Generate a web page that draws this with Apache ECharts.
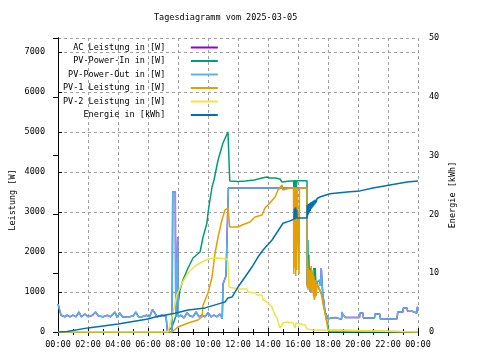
<!DOCTYPE html>
<html>
<head>
<meta charset="utf-8">
<script src="https://cdn.jsdelivr.net/npm/echarts@6/dist/echarts.min.js"></script>
<style>html,body{margin:0;padding:0;background:#fff}#c{width:480px;height:360px}</style>
</head>
<body>
<div id="c"></div>
<script>
// ---------- DATA ----------
const titleText = 'Tagesdiagramm vom 2025-03-05';
const seriesNames = ['AC Leistung in [W]', 'PV-Power-In in [W]', 'PV-Power-Out in [W]', 'PV-1 Leistung in [W]', 'PV-2 Leistung in [W]', 'Energie in [kWh]'];
const hourLabels = ['00:00','02:00','04:00','06:00','08:00','10:00','12:00','14:00','16:00','18:00','20:00','22:00','00:00'];
const leftAxisName = 'Leistung [W]';
const rightAxisName = 'Energie [kWh]';

// [hour, W]
const pvOut = [[0,700],[0.1,560],[0.2,420],[0.45,380],[0.6,420],[0.8,380],[1.0,420],[1.2,380],[1.4,500],[1.55,380],[1.8,450],[2.0,380],[2.3,420],[2.5,500],[2.7,400],[3.0,380],[3.3,420],[3.5,380],[3.8,500],[3.95,360],[4.1,480],[4.3,380],[4.6,370],[5.0,400],[5.2,500],[5.35,380],[5.6,380],[5.9,420],[6.1,380],[6.3,560],[6.45,480],[6.6,380],[6.9,420],[7.2,400],[7.3,0],[7.6,0],[7.65,3500],[7.82,3500],[7.85,380],[7.95,380],[7.98,2375],[8.02,380],[8.2,420],[8.4,350],[8.6,480],[8.8,400],[9.0,380],[9.2,500],[9.4,380],[9.6,420],[9.8,380],[10.0,480],[10.2,380],[10.4,420],[10.6,380],[10.8,450],[10.95,330],[11.0,1200],[11.2,1400],[11.33,1400],[11.36,3600],[16.6,3600],[16.62,1150],[16.65,1550],[16.7,1100],[16.75,1500],[16.8,1000],[16.85,1450],[16.9,1050],[16.95,1400],[17.0,1100],[17.05,1350],[17.1,850],[17.15,1300],[17.2,1150],[17.27,1250],[17.33,1300],[17.45,1300],[17.5,1150],[17.55,1600],[17.62,1600],[17.65,950],[17.72,750],[17.8,500],[17.93,400],[18.0,330],[18.5,360],[18.9,320],[18.93,500],[19.0,425],[19.2,360],[20.1,360],[20.13,475],[20.33,475],[20.36,350],[21.1,350],[21.13,450],[21.45,450],[21.5,320],[22.6,330],[22.65,500],[23.0,500],[23.02,600],[23.27,600],[23.3,520],[23.6,520],[23.62,475],[23.93,475],[23.95,625],[24,600]];

const acPower = [[0,700],[0.1,560],[0.2,420],[0.45,380],[0.6,420],[0.8,380],[1.0,420],[1.2,380],[1.4,500],[1.55,380],[1.8,450],[2.0,380],[2.3,420],[2.5,500],[2.7,400],[3.0,380],[3.3,420],[3.5,380],[3.8,500],[3.95,360],[4.1,480],[4.3,380],[4.6,370],[5.0,400],[5.2,500],[5.35,380],[5.6,380],[5.9,420],[6.1,380],[6.3,560],[6.45,480],[6.6,380],[6.9,420],[7.2,400],[7.3,0],[7.6,0],[7.65,3500],[7.82,3500],[7.85,380],[7.95,380],[7.98,2375],[8.02,380],[8.2,420],[8.4,350],[8.6,480],[8.8,400],[9.0,380],[9.2,500],[9.4,380],[9.6,420],[9.8,380],[10.0,480],[10.2,380],[10.4,420],[10.6,380],[10.8,450],[10.95,330],[11.0,1200],[11.2,1400],[11.33,1400],[11.36,3600],[12.0,3600],[12.02,3640],[12.1,3640],[12.12,3600],[12.3,3600],[12.32,3640],[12.4,3640],[12.42,3600],[16.6,3600],[16.62,1150],[16.65,1550],[16.7,1100],[16.75,1500],[16.8,1000],[16.85,1450],[16.9,1050],[16.95,1400],[17.0,1100],[17.05,1350],[17.1,850],[17.15,1300],[17.2,1150],[17.27,1250],[17.33,1300],[17.45,1300],[17.5,1150],[17.55,1600],[17.62,1600],[17.65,950],[17.72,750],[17.8,500],[17.93,400],[18.0,330],[18.5,360],[18.9,320],[18.93,500],[19.0,425],[19.2,360],[20.1,360],[20.13,475],[20.33,475],[20.36,350],[21.1,350],[21.13,450],[21.45,450],[21.5,320],[22.6,330],[22.65,500],[23.0,500],[23.02,600],[23.27,600],[23.3,520],[23.6,520],[23.62,475],[23.93,475],[23.95,625],[24,600]];

const pvIn = [[0,0],[7.27,0],[7.6,125],[7.93,475],[8.13,1050],[8.33,1300],[8.67,1600],[9.0,1850],[9.47,2000],[9.6,2050],[9.67,2375],[9.93,2725],[10.0,2975],[10.13,3300],[10.27,3625],[10.4,3800],[10.67,4300],[11.0,4725],[11.33,5000],[11.43,5000],[11.45,3775],[12.0,3760],[12.5,3775],[13.1,3800],[13.15,3850],[13.6,3850],[13.93,3875],[14.1,3850],[14.5,3850],[14.8,3825],[14.93,3750],[15.47,3775],[15.7,3775],[15.73,3600],[15.76,3800],[15.8,3620],[15.84,3800],[15.88,3600],[15.93,3780],[16.6,3780],[16.62,1200],[16.66,2300],[16.68,1700],[16.72,1925],[16.75,1550],[16.8,1300],[16.85,1600],[16.9,1200],[16.95,1500],[17.0,1150],[17.05,1600],[17.1,900],[17.15,1600],[17.2,1150],[17.27,1250],[17.33,1150],[17.5,1000],[17.6,950],[17.67,875],[17.8,500],[17.93,250],[18.0,175],[18.05,0],[24,0]];

const pv1 = [[0,0],[7.6,0],[8.0,125],[8.67,225],[9.33,300],[9.6,375],[9.67,675],[10.0,975],[10.27,1375],[10.47,1975],[10.67,2375],[10.93,2800],[11.13,3050],[11.33,3100],[11.4,3050],[11.45,2625],[12.0,2625],[12.27,2675],[12.8,2750],[13.13,2875],[13.6,2925],[13.8,3100],[14.0,3175],[14.47,3375],[14.67,3550],[14.93,3675],[15.0,3550],[15.47,3600],[15.7,3600],[15.72,1450],[15.75,3600],[15.78,1600],[15.81,3600],[15.85,1400],[15.88,3600],[15.91,1550],[15.94,3600],[16.05,3600],[16.07,1450],[16.1,3600],[16.6,3600],[16.62,1100],[16.64,1850],[16.67,1050],[16.7,1600],[16.73,1100],[16.76,1550],[16.79,1050],[16.82,1500],[16.85,1100],[16.88,1650],[16.91,1000],[16.94,1450],[16.97,1100],[17.0,1550],[17.03,900],[17.06,1400],[17.09,800],[17.12,1300],[17.15,1050],[17.18,1250],[17.22,900],[17.27,1200],[17.33,1125],[17.45,1100],[17.53,1000],[17.6,950],[17.67,700],[17.8,475],[17.93,225],[18.0,50],[18.13,0],[24,0]];

const pv2 = [[0,0],[7.33,0],[7.67,475],[7.93,925],[8.27,1225],[8.67,1475],[9.13,1650],[9.6,1750],[10.0,1825],[10.67,1850],[11.27,1825],[11.33,1750],[11.4,1125],[12.0,1075],[12.6,1075],[12.67,1000],[13.13,975],[13.27,925],[13.6,925],[13.67,800],[13.93,750],[14.0,700],[14.27,625],[14.33,550],[14.47,425],[14.6,350],[14.67,250],[14.8,100],[14.93,50],[15.0,225],[15.27,250],[15.67,225],[15.8,100],[15.87,225],[16.0,175],[16.47,175],[16.6,75],[17.0,50],[17.5,50],[17.6,0],[24,0]];

// [hour, kWh]
const energy = [[0,0],[0.6,0.1],[2.0,0.7],[4.0,1.35],[6.0,2.2],[6.47,2.55],[7.8,3.2],[8.67,3.75],[9.8,4.1],[10.93,4.95],[11.13,5.1],[11.33,5.8],[11.6,5.95],[12.0,7.65],[12.47,9.35],[12.93,11.05],[13.33,12.75],[13.67,13.95],[14.27,15.65],[15.0,18.5],[15.47,18.9],[15.73,19.2],[15.76,21.0],[15.8,19.2],[15.84,21.2],[15.88,19.3],[15.91,20.8],[15.93,19.4],[16.6,19.4],[16.61,21.6],[16.63,19.7],[16.66,21.7],[16.69,20.0],[16.72,21.8],[16.75,20.3],[16.78,21.9],[16.81,20.6],[16.84,22.0],[16.87,20.9],[16.9,22.1],[16.93,21.1],[16.96,22.2],[16.99,21.3],[17.02,22.3],[17.05,21.5],[17.08,22.4],[17.12,21.7],[17.16,22.5],[17.2,22.0],[17.27,22.7],[17.5,23.0],[18.13,23.5],[19.27,23.8],[20.13,24.0],[21.0,24.5],[22.13,25.0],[23.27,25.5],[24,25.7]];

const seriesColors = ['#9400d3', '#009e73', '#56b4e9', '#e69f00', '#f0e442', '#0072b2'];

// ---------- CHART ----------
const FONT = 'DejaVu Sans Mono';
const FS = 8.5;
const chart = echarts.init(document.getElementById('c'), null, {renderer: 'canvas'});
const gridLine = {show: true, lineStyle: {color: '#a0a0a0', type: [3, 3], width: 1}};
const blackLine = {show: true, lineStyle: {color: '#000', width: 1}};
const txt = {fontFamily: FONT, fontSize: FS, color: '#000'};

function mk(i, data, yIdx) {
  return {
    name: seriesNames[i], type: 'line', data: data, yAxisIndex: yIdx, xAxisIndex: 0,
    symbol: 'none', showSymbol: false, silent: true, animation: false,
    lineStyle: {width: 1.5, color: seriesColors[i]}, itemStyle: {color: seriesColors[i]},
    emphasis: {disabled: true}
  };
}

chart.setOption({
  backgroundColor: '#fff',
  animation: false,
  title: {text: titleText, left: 154, top: 13, padding: 0,
    textStyle: {fontFamily: FONT, fontSize: FS, fontWeight: 'normal', color: '#000'}},
  grid: {left: 58, right: 62, top: 38, bottom: 28, containLabel: false},
  legend: {
    orient: 'vertical', left: 63, top: 43, padding: 0, itemGap: 4.5, align: 'right',
    itemWidth: 27, itemHeight: 2, icon: 'rect', selectedMode: false,
    textStyle: txt,
    formatter: function (n) { return n.padStart(20, ' ') + '    '; },
    data: seriesNames
  },
  xAxis: [
    {type: 'value', min: 0, max: 24, interval: 2, position: 'bottom',
      axisLine: blackLine, axisTick: {show: true, inside: true, length: 4, lineStyle: {color: '#000'}},
      minorTick: {show: true, splitNumber: 2, length: 3, lineStyle: {color: '#000'}},
      axisLabel: Object.assign({margin: 8, formatter: function (v) { return hourLabels[Math.round(v / 2)]; }}, txt),
      splitLine: gridLine},
    {type: 'value', min: 0, max: 24, interval: 2, position: 'top',
      axisLine: blackLine, axisTick: {show: true, inside: true, length: 4, lineStyle: {color: '#000'}},
      minorTick: {show: true, splitNumber: 2, length: 3, lineStyle: {color: '#000'}},
      axisLabel: {show: false}, splitLine: {show: false}}
  ],
  yAxis: [
    {type: 'value', min: 0, max: 7350, interval: 1000, position: 'left',
      axisLine: blackLine, axisTick: {show: true, inside: true, length: 4, lineStyle: {color: '#000'}},
      axisLabel: Object.assign({margin: 13, showMaxLabel: false, formatter: function (v) { return String(v); }}, txt),
      splitLine: gridLine},
    {type: 'value', min: 0, max: 50, interval: 10, position: 'right',
      axisLine: blackLine, axisTick: {show: true, inside: true, length: 5, lineStyle: {color: '#000'}},
      axisLabel: Object.assign({margin: 11, formatter: function (v) { return String(v); }}, txt),
      splitLine: {show: false}}
  ],
  graphic: [
    {type: 'text', x: 13, y: 200, rotation: Math.PI / 2, silent: true,
      style: {text: leftAxisName, fontFamily: FONT, fontSize: FS, fill: '#000', align: 'center', verticalAlign: 'middle'}},
    {type: 'text', x: 453, y: 195, rotation: Math.PI / 2, silent: true,
      style: {text: rightAxisName, fontFamily: FONT, fontSize: FS, fill: '#000', align: 'center', verticalAlign: 'middle'}}
  ],
  series: [
    mk(0, acPower, 0),
    mk(1, pvIn, 0),
    mk(2, pvOut, 0),
    mk(3, pv1, 0),
    mk(4, pv2, 0),
    mk(5, energy, 1)
  ]
});
</script>
</body>
</html>
